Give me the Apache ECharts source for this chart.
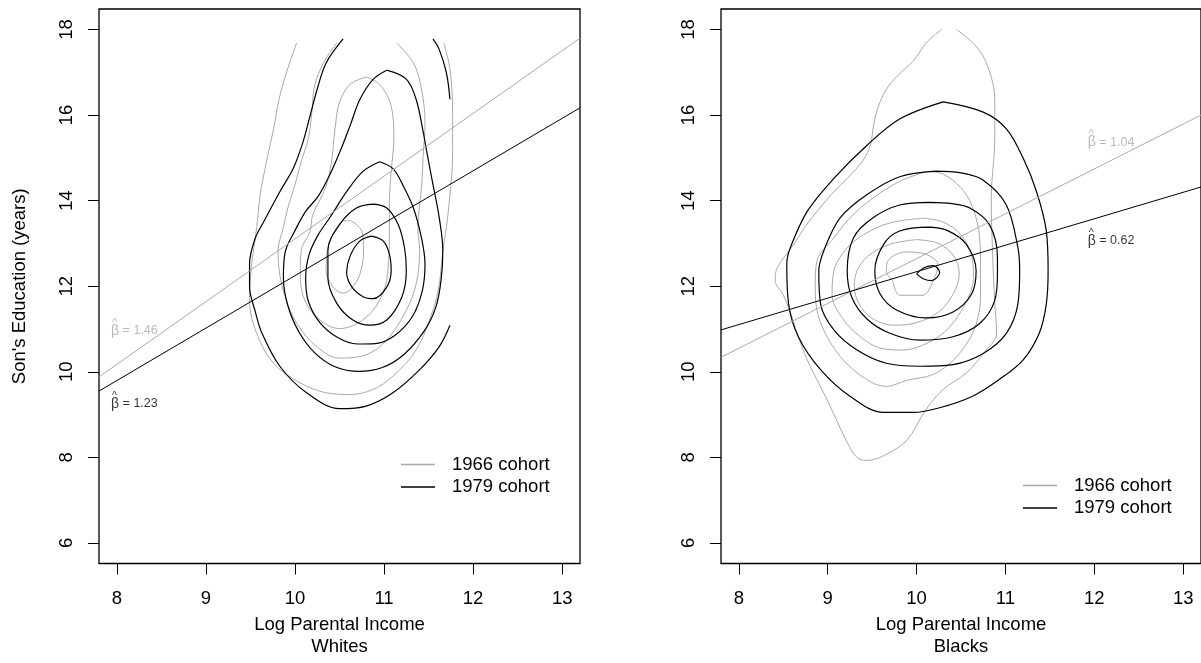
<!DOCTYPE html>
<html><head><meta charset="utf-8">
<script src="https://cdn.jsdelivr.net/npm/echarts@6/dist/echarts.min.js"></script>
<style>html,body{margin:0;padding:0;background:#fff}#c{width:1201px;height:663px}</style>
</head><body><div id="c"></div>
<script>
const xTicks = [8, 9, 10, 11, 12, 13];
const yTicks = [6, 8, 10, 12, 14, 16, 18];
const panelNames = ['Whites', 'Blacks'];
const cohortNames = ['1966 cohort', '1979 cohort'];

// Whites, 1966 cohort (gray contours)
const whites1966 = [
  [[10.63,13.53],[10.75,13.29],[10.77,12.83],[10.73,12.29],[10.63,11.94],[10.54,11.84],[10.43,11.98],[10.35,12.36],[10.37,12.90],[10.47,13.37],[10.56,13.53],[10.63,13.53]],
  [[10.80,16.89],[10.95,16.72],[11.08,16.22],[11.11,15.45],[11.08,14.68],[11.06,13.98],[11.06,13.37],[11.04,12.29],[10.95,11.67],[10.76,11.21],[10.50,11.01],[10.28,11.21],[10.11,11.67],[10.06,12.29],[10.07,12.83],[10.17,13.29],[10.20,13.67],[10.34,14.29],[10.41,14.91],[10.45,15.68],[10.50,16.30],[10.62,16.72],[10.80,16.89]],
  [[10.47,17.69],[10.32,17.22],[10.22,16.68],[10.19,16.07],[10.15,15.45],[10.07,14.91],[10.00,14.37],[9.92,13.83],[9.87,13.37],[9.81,12.83],[9.85,12.05],[9.98,11.28],[10.20,10.67],[10.50,10.32],[10.80,10.40],[11.03,10.74],[11.25,11.44],[11.36,12.05],[11.40,12.83],[11.38,13.37],[11.42,14.29],[11.44,15.06],[11.46,15.83],[11.42,16.61],[11.33,17.22],[11.14,17.69]],
  [[10.02,17.69],[9.94,17.22],[9.83,16.45],[9.76,15.68],[9.68,14.91],[9.61,14.14],[9.57,13.37],[9.51,12.44],[9.49,11.67],[9.57,10.90],[9.76,10.20],[10.06,9.74],[10.35,9.51],[10.62,9.47],[10.88,9.59],[11.10,9.90],[11.36,10.51],[11.55,11.44],[11.62,12.05],[11.66,12.83],[11.70,13.37],[11.74,14.14],[11.77,15.06],[11.77,16.07],[11.74,17.07],[11.67,17.69]]
];
// Whites, 1979 cohort (black contours)
const whites1979 = [
  [[10.86,13.17],[10.99,13.06],[11.06,12.75],[11.08,12.36],[11.03,11.98],[10.88,11.71],[10.77,11.75],[10.64,11.98],[10.58,12.32],[10.62,12.71],[10.73,13.06],[10.86,13.17]],
  [[10.88,13.92],[11.03,13.83],[11.16,13.44],[11.23,12.90],[11.25,12.36],[11.20,11.75],[11.03,11.21],[10.84,11.09],[10.65,11.21],[10.47,11.60],[10.37,12.20],[10.37,12.85],[10.50,13.44],[10.69,13.83],[10.88,13.92]],
  [[10.95,14.91],[11.10,14.75],[11.21,14.37],[11.33,13.83],[11.42,13.13],[11.46,12.52],[11.43,11.90],[11.32,11.30],[11.12,10.85],[10.90,10.66],[10.70,10.65],[10.48,10.80],[10.28,11.15],[10.15,11.65],[10.12,12.20],[10.16,12.75],[10.26,13.20],[10.39,13.60],[10.58,14.21],[10.76,14.68],[10.95,14.91]],
  [[11.03,17.05],[11.25,16.84],[11.36,16.37],[11.44,15.60],[11.48,15.14],[11.55,14.37],[11.62,13.60],[11.66,12.83],[11.64,12.13],[11.58,11.50],[11.45,10.95],[11.22,10.40],[10.98,10.10],[10.72,10.01],[10.45,10.12],[10.22,10.45],[10.04,10.95],[9.92,11.55],[9.87,12.20],[9.89,12.80],[10.00,13.30],[10.12,13.75],[10.26,14.10],[10.39,14.60],[10.52,15.22],[10.62,15.76],[10.73,16.37],[10.88,16.84],[11.03,17.05]],
  [[10.54,17.78],[10.35,17.22],[10.26,16.68],[10.17,15.99],[10.09,15.37],[9.98,14.75],[9.83,14.21],[9.66,13.55],[9.55,13.10],[9.49,12.52],[9.49,11.98],[9.55,11.44],[9.63,10.90],[9.83,10.13],[10.13,9.51],[10.50,9.14],[10.80,9.20],[11.10,9.51],[11.40,10.05],[11.62,10.59],[11.74,11.09]],
  [[11.55,17.78],[11.62,17.53],[11.70,16.99],[11.74,16.37]]
];
// Blacks, 1966 cohort (gray contours)
const blacks1966 = [
  [[9.73,12.14],[9.81,11.79],[10.07,11.79],[10.17,12.05],[10.24,12.50],[10.10,12.75],[9.87,12.80],[9.68,12.60],[9.66,12.35],[9.73,12.14]],
  [[10.00,13.09],[10.25,13.00],[10.42,12.70],[10.48,12.30],[10.42,11.85],[10.25,11.40],[10.00,11.15],[9.75,11.09],[9.50,11.25],[9.35,11.60],[9.30,12.00],[9.33,12.36],[9.45,12.70],[9.70,12.98],[10.00,13.09]],
  [[10.07,13.59],[10.30,13.50],[10.50,13.20],[10.62,12.70],[10.64,12.20],[10.55,11.60],[10.35,11.00],[10.10,10.65],[9.85,10.51],[9.60,10.55],[9.35,10.85],[9.15,11.30],[9.05,11.80],[9.07,12.36],[9.20,12.85],[9.40,13.20],[9.70,13.48],[10.07,13.59]],
  [[10.11,14.68],[10.30,14.62],[10.50,14.30],[10.62,13.90],[10.70,13.30],[10.72,12.50],[10.72,11.80],[10.65,11.00],[10.45,10.35],[10.20,9.95],[9.89,9.80],[9.66,9.66],[9.44,9.82],[9.14,10.36],[8.91,11.21],[8.86,12.00],[8.88,12.60],[9.07,13.13],[9.25,13.60],[9.51,14.06],[9.81,14.45],[10.11,14.68]],
  [[10.28,18.00],[10.11,17.69],[9.96,17.26],[9.78,16.91],[9.66,16.60],[9.57,16.20],[9.52,15.80],[9.48,15.30],[9.40,14.95],[9.22,14.52],[9.07,14.21],[8.90,13.80],[8.75,13.40],[8.62,12.98],[8.50,12.65],[8.42,12.36],[8.41,12.13],[8.50,11.80],[8.58,11.40],[8.64,11.00],[8.77,10.28],[8.99,9.36],[9.22,8.35],[9.33,8.00],[9.44,7.93],[9.63,8.04],[9.89,8.40],[10.10,9.10],[10.30,9.59],[10.56,9.97],[10.75,10.43],[10.90,10.90],[10.88,11.60],[10.86,12.52],[10.84,14.06],[10.88,15.45],[10.88,16.37],[10.80,17.14],[10.67,17.61],[10.45,18.00]]
];
// Blacks, 1979 cohort (black contours)
const blacks1979 = [
  [[10.00,12.29],[10.09,12.44],[10.19,12.48],[10.26,12.32],[10.17,12.13],[10.08,12.17],[10.00,12.29]],
  [[10.15,13.38],[10.35,13.30],[10.56,12.98],[10.67,12.36],[10.62,11.82],[10.41,11.40],[10.11,11.26],[9.78,11.44],[9.59,11.82],[9.53,12.36],[9.63,12.98],[9.81,13.29],[10.15,13.38]],
  [[10.15,13.96],[10.40,13.93],[10.60,13.83],[10.82,13.44],[10.91,12.67],[10.91,12.29],[10.88,11.67],[10.71,11.13],[10.41,10.82],[10.04,10.74],[9.70,10.90],[9.44,11.24],[9.27,11.75],[9.22,12.36],[9.29,13.13],[9.51,13.60],[9.81,13.90],[10.15,13.96]],
  [[10.21,14.69],[10.50,14.65],[10.75,14.48],[11.01,13.90],[11.14,12.90],[11.16,12.36],[11.14,11.59],[11.01,10.90],[10.75,10.43],[10.41,10.17],[10.04,10.13],[9.66,10.20],[9.33,10.51],[9.07,10.98],[8.92,11.59],[8.90,12.36],[8.97,12.90],[9.14,13.60],[9.44,14.14],[9.81,14.56],[10.21,14.69]],
  [[10.30,16.31],[10.75,16.07],[11.01,15.68],[11.20,14.99],[11.35,14.21],[11.46,13.29],[11.48,12.36],[11.46,11.59],[11.38,10.90],[11.20,10.28],[10.93,9.82],[10.63,9.43],[10.26,9.16],[9.96,9.05],[9.63,9.05],[9.25,9.43],[8.92,10.05],[8.67,10.82],[8.56,11.59],[8.54,12.52],[8.58,12.90],[8.77,13.75],[9.07,14.52],[9.44,15.29],[9.81,15.91],[10.30,16.31]]
];

// regression lines (endpoints across the axis range)
const whitesFit1966 = [[7.8, 9.88], [13.2, 17.80]];
const whitesFit1979 = [[7.8, 9.55], [13.2, 16.17]];
const blacksFit1966 = [[7.8, 10.34], [13.2, 16.00]];
const blacksFit1979 = [[7.8, 10.98], [13.2, 14.32]];

// slope annotations
const betaWhites = [[7.93, 11.03, '1.46'], [7.93, 9.32, '1.23']];
const betaBlacks = [[11.92, 15.43, '1.04'], [11.92, 13.13, '0.62']];

const GRAY = '#a9a9a9';
const BLACK = '#000000';
const FONT = '"Liberation Sans", Arial, Helvetica, sans-serif';

function contours(list, gi, color, width, name) {
  return list.map(d => ({
    type: 'line', name: name, xAxisIndex: gi, yAxisIndex: gi, data: d,
    symbol: 'none', smooth: 0.35, silent: true,
    lineStyle: { color: color, width: width }, itemStyle: { color: color }
  }));
}
function fit(d, gi, color, width) {
  return { type: 'line', xAxisIndex: gi, yAxisIndex: gi, data: d, symbol: 'none', silent: true,
    lineStyle: { color: color, width: width } };
}
function beta(item, gi, color) {
  return { type: 'scatter', xAxisIndex: gi, yAxisIndex: gi, data: [[item[0], item[1]]],
    symbolSize: 1, itemStyle: { color: 'rgba(0,0,0,0)' }, silent: true,
    label: { show: true, position: 'right', distance: 0, offset: [0, 2.5], color: color,
      formatter: '{h|^}\n{b|β}{t| = ' + item[2] + '}',
      rich: {
        h: { fontSize: 10.5, lineHeight: 1, padding: [0, 0, 0, 1], color: color, fontFamily: FONT },
        b: { fontSize: 14, lineHeight: 15, color: color, fontFamily: FONT },
        t: { fontSize: 12.5, lineHeight: 15, color: color, fontFamily: FONT }
      } } };
}

const grids = [
  { left: 99, top: 9, width: 481, height: 560 },
  { left: 721, top: 9, width: 481, height: 560 }
].map(g => Object.assign(g, { show: true, borderColor: '#000', borderWidth: 1.3, backgroundColor: '#fff', containLabel: false }));

const xAxes = [0, 1].map(i => ({
  type: 'value', gridIndex: i, min: 7.8, max: 13.2,
  name: 'Log Parental Income\n' + panelNames[i], nameLocation: 'middle', nameGap: 46,
  nameTextStyle: { fontSize: 18.5, lineHeight: 22.3, color: '#000', fontFamily: FONT },
  axisLine: { show: false }, splitLine: { show: false },
  axisTick: { show: true, inside: false, length: 11, customValues: xTicks, lineStyle: { color: '#000', width: 1 } },
  axisLabel: { show: true, margin: 26, fontSize: 18.5, color: '#000', fontFamily: FONT, customValues: xTicks }
}));
const yAxes = [0, 1].map(i => ({
  type: 'value', gridIndex: i, min: 5.52, max: 18.48,
  name: i === 0 ? "Son's Education (years)" : '', nameLocation: 'middle', nameGap: 70, nameRotate: 90,
  nameTextStyle: { fontSize: 18.5, color: '#000', fontFamily: FONT },
  axisLine: { show: false }, splitLine: { show: false },
  axisTick: { show: true, inside: false, length: 11, customValues: yTicks, lineStyle: { color: '#000', width: 1 } },
  axisLabel: { show: true, margin: 23, rotate: 90, fontSize: 18.5, color: '#000', fontFamily: FONT, customValues: yTicks }
}));

const series = [].concat(
  contours(whites1966, 0, GRAY, 1, cohortNames[0]),
  contours(whites1979, 0, BLACK, 1.2, cohortNames[1]),
  contours(blacks1966, 1, GRAY, 1, cohortNames[0]),
  contours(blacks1979, 1, BLACK, 1.2, cohortNames[1]),
  [fit(whitesFit1966, 0, GRAY, 1), fit(whitesFit1979, 0, BLACK, 1),
   fit(blacksFit1966, 1, GRAY, 1), fit(blacksFit1979, 1, BLACK, 1),
   beta(betaWhites[0], 0, GRAY), beta(betaWhites[1], 0, BLACK),
   beta(betaBlacks[0], 1, GRAY), beta(betaBlacks[1], 1, BLACK)]
);

const legendBase = {
  data: cohortNames.map(n => ({ name: n, icon: 'rect' })),
  orient: 'vertical', itemWidth: 34, itemHeight: 1.5, itemGap: 3.5,
  selectedMode: false, padding: 0,
  textStyle: { fontSize: 18.5, color: '#000', fontFamily: FONT, padding: [0, 0, 0, 12] }
};

const chart = echarts.init(document.getElementById('c'), null, { renderer: 'canvas' });
chart.setOption({
  animation: false,
  backgroundColor: '#fff',
  grid: grids, xAxis: xAxes, yAxis: yAxes,
  legend: [
    Object.assign({}, legendBase, { left: 401, top: 455 }),
    Object.assign({}, legendBase, { left: 1023, top: 476 })
  ],
  series: series
});
</script>
</body></html>
